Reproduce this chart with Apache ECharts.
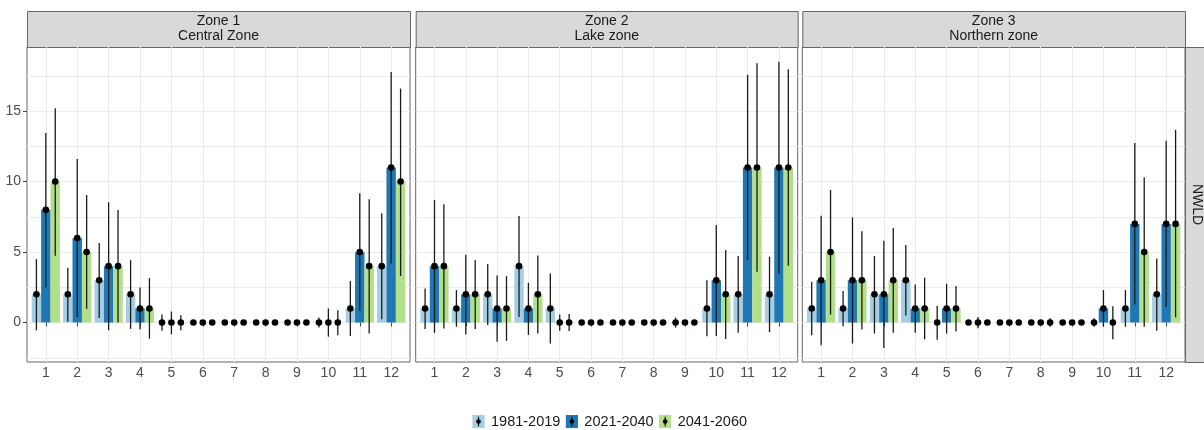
<!DOCTYPE html>
<html>
<head>
<meta charset="utf-8">
<script src="https://cdn.jsdelivr.net/npm/echarts@6/dist/echarts.min.js"></script>
<style>
html,body{margin:0;padding:0;background:#fff;}
#chart{width:1204px;height:430px;}
</style>
</head>
<body>
<div id="chart"></div>
<script>
// ---------- DATA ----------
const months = [1,2,3,4,5,6,7,8,9,10,11,12];
const monthLabels = ['1','2','3','4','5','6','7','8','9','10','11','12'];
const periods = ['1981-2019','2021-2040','2041-2060'];
const zoneTitles = ['Zone 1\nCentral Zone','Zone 2\nLake zone','Zone 3\nNorthern zone'];
const rowLabel = 'NWLD';
const yLabelTicks = [0,5,10,15];
const yGridTicks = [-2.5,0,2.5,5,7.5,10,12.5,15,17.5];

// Zone 1
const z1_p1 = [2,2,3,2,0,0,0,0,0,0,1,4];
const z1_p1_lo = [-0.55,0.05,0.33,-0.45,-0.59,0,0,0,0,-0.36,-0.95,0.24];
const z1_p1_hi = [4.5,3.89,5.64,4.43,0.57,0,0,0,0,0.36,2.94,7.75];
const z1_p2 = [8,6,4,1,0,0,0,0,0,0,5,11];
const z1_p2_lo = [2.49,0.4,-0.55,-0.5,-0.83,0,0,0,0,-1.0,0.83,4.19];
const z1_p2_hi = [13.44,11.6,8.53,2.49,0.78,0,0,0,0,1.0,9.17,17.77];
const z1_p3 = [10,5,4,1,0,0,0,0,0,0,4,10];
const z1_p3_lo = [4.74,0.97,0,-1.14,-0.55,0,0,0,0,-0.9,-0.78,3.3];
const z1_p3_hi = [15.2,9.05,7.99,3.15,0.52,0,0,0,0,0.88,8.74,16.6];

// Zone 2
const z2_p1 = [1,1,2,4,1,0,0,0,0,1,2,2];
const z2_p1_lo = [-0.45,-0.3,-0.17,0.4,-1.49,0,0,0,-0.36,-0.97,-0.73,-0.69];
const z2_p1_hi = [2.42,2.3,4.15,7.56,3.48,0,0,0,0.36,3.0,4.72,4.67];
const z2_p2 = [4,2,1,1,0,0,0,0,0,3,11,11];
const z2_p2_lo = [-0.73,-0.85,-1.37,-0.88,-0.59,0,0,0,0,-0.95,4.43,3.48];
const z2_p2_hi = [8.7,4.81,3.34,2.82,0.57,0,0,0,0,6.92,17.58,18.5];
const z2_p3 = [4,2,1,2,0,0,0,0,0,2,11,11];
const z2_p3_lo = [-0.43,-0.45,-1.3,-0.78,-0.6,0,0,0,0,-1.16,3.6,4.03];
const z2_p3_hi = [8.39,4.43,3.29,4.76,0.6,0,0,0,0,5.14,18.4,17.98];

// Zone 3
const z3_p1 = [1,1,2,3,0,0,0,0,0,0,1,2];
const z3_p1_lo = [-0.9,-0.26,-0.78,0.5,-1.23,0,0,0,0,-0.3,-0.3,-0.59];
const z3_p1_hi = [2.89,2.23,4.72,5.5,1.18,0,0,0,0,0.3,2.3,4.55];
const z3_p2 = [3,3,2,1,1,0,0,0,0,1,7,7];
const z3_p2_lo = [-1.61,-1.49,-1.8,-0.73,-0.78,-0.4,0,0,0,-0.3,1.28,1.11];
const z3_p2_hi = [7.58,7.46,5.8,2.7,2.75,0.4,0,0,0,2.3,12.73,12.9];
const z3_p3 = [5,3,3,1,1,0,0,0,0,0,5,7];
const z3_p3_lo = [0.57,-0.5,-0.73,-1.18,-0.64,0,0,-0.3,0,-1.18,-0.3,0.36];
const z3_p3_hi = [9.4,6.47,6.7,3.18,2.6,0,0,0.3,0,1.16,10.3,13.67];

// ---------- STYLE / LAYOUT ----------
const colors = ['#a6cee3','#1f78b4','#b2df8a'];
const FONT = '"Liberation Sans", Arial, sans-serif';
const panels = [
  {left:27, width:383},
  {left:415.7, width:382},
  {left:802.3, width:382.7}
];
const PTOP = 47, PH = 315;
const STRIP_TOP = 11, STRIP_H = 36;
const YMIN = -2.8, YMAX = 19.55;
const DODGE = 0.3, HALF = 0.15;

const zoneData = [
  [[z1_p1,z1_p1_lo,z1_p1_hi],[z1_p2,z1_p2_lo,z1_p2_hi],[z1_p3,z1_p3_lo,z1_p3_hi]],
  [[z2_p1,z2_p1_lo,z2_p1_hi],[z2_p2,z2_p2_lo,z2_p2_hi],[z2_p3,z2_p3_lo,z2_p3_hi]],
  [[z3_p1,z3_p1_lo,z3_p1_hi],[z3_p2,z3_p2_lo,z3_p2_hi],[z3_p3,z3_p3_lo,z3_p3_hi]]
];

function makeRender(offset) {
  return function (params, api) {
    const m = api.value(0), v = api.value(1), lo = api.value(2), hi = api.value(3);
    const x = m + offset;
    const children = [];
    if (v !== 0) {
      const a = api.coord([x - HALF, v]);
      const b = api.coord([x + HALF, 0]);
      children.push({
        type: 'rect',
        shape: {x: a[0], y: Math.min(a[1], b[1]), width: b[0] - a[0], height: Math.abs(b[1] - a[1])},
        style: {fill: api.visual('color')}
      });
    }
    if (hi > lo) {
      const p = api.coord([x, lo]), q = api.coord([x, hi]);
      children.push({type: 'line', shape: {x1: p[0], y1: p[1], x2: q[0], y2: q[1]},
        style: {stroke: '#1a1a1a', lineWidth: 1.3}});
    }
    const c = api.coord([x, v]);
    children.push({type: 'circle', shape: {cx: c[0], cy: c[1], r: 3.3}, style: {fill: '#000'}});
    return {type: 'group', children: children};
  };
}

const grids = [], xAxes = [], yAxes = [], series = [], graphics = [];
panels.forEach((p, zi) => {
  grids.push({left: p.left, top: PTOP, width: p.width, height: PH, show: true,
    borderColor: '#666', borderWidth: 1, backgroundColor: '#fff', containLabel: false});
  xAxes.push({
    type: 'value', gridIndex: zi, min: 0.4, max: 12.6,
    axisLine: {show: false},
    axisTick: {show: true, customValues: months, length: 4, lineStyle: {color: '#444'}},
    axisLabel: {show: true, customValues: months, margin: 4, color: '#4d4d4d', fontSize: 14, fontFamily: FONT,
      formatter: v => monthLabels[months.indexOf(Math.round(v))]},
    splitLine: {show: true, lineStyle: {color: '#ebebeb', width: 1}}
  });
  yAxes.push({
    type: 'value', gridIndex: zi, min: YMIN, max: YMAX,
    axisLine: {show: false},
    axisTick: {show: false, customValues: yGridTicks},
    axisLabel: {show: false},
    splitLine: {show: true, lineStyle: {color: '#ebebeb', width: 1}}
  });
  zoneData[zi].forEach((arrs, pi) => {
    const [vals, lo, hi] = arrs;
    series.push({
      type: 'custom', name: periods[pi], xAxisIndex: zi, yAxisIndex: zi,
      itemStyle: {color: colors[pi]},
      renderItem: makeRender((pi - 1) * DODGE),
      encode: {x: 0, y: 1},
      data: months.map((m, i) => [m, vals[i], lo[i], hi[i]]),
      z: 2
    });
  });
  // strip
  graphics.push({type: 'rect', left: p.left, top: STRIP_TOP,
    shape: {width: p.width, height: STRIP_H},
    style: {fill: '#d9d9d9', stroke: '#666', lineWidth: 1}});
  graphics.push({type: 'text', x: p.left + p.width / 2, y: STRIP_TOP + STRIP_H / 2,
    style: {text: zoneTitles[zi], align: 'center', verticalAlign: 'middle', lineHeight: 15,
      fill: '#1a1a1a', fontSize: 14, fontFamily: FONT}});
});
// labelled y axis with major ticks for the first panel
yAxes.push({
  type: 'value', gridIndex: 0, min: YMIN, max: YMAX, position: 'left',
  axisLine: {show: false},
  axisTick: {show: true, customValues: yLabelTicks, length: 4, lineStyle: {color: '#444'}},
  axisLabel: {show: true, customValues: yLabelTicks, margin: 6, color: '#4d4d4d', fontSize: 14, fontFamily: FONT},
  splitLine: {show: false}
});
// right strip
graphics.push({type: 'rect', left: 1185, top: PTOP, shape: {width: 30, height: PH},
  style: {fill: '#d9d9d9', stroke: '#666', lineWidth: 1}});
graphics.push({type: 'text', x: 1197, y: PTOP + PH / 2, rotation: -Math.PI / 2,
  style: {text: rowLabel, align: 'center', verticalAlign: 'middle', fill: '#1a1a1a', fontSize: 14, fontFamily: FONT}});

function iconFor(col) {
  const svg = '<svg xmlns="http://www.w3.org/2000/svg" width="13" height="14" viewBox="0 0 13 14">' +
    '<rect x="0" y="0" width="13" height="14" fill="' + col + '"/>' +
    '<line x1="6.5" y1="2" x2="6.5" y2="12" stroke="#000" stroke-width="1.2"/>' +
    '<circle cx="6.5" cy="7" r="2.4" fill="#000"/></svg>';
  return 'image://data:image/svg+xml;charset=utf-8,' + encodeURIComponent(svg);
}

const option = {
  animation: false,
  backgroundColor: '#fff',
  grid: grids,
  xAxis: xAxes,
  yAxis: yAxes,
  series: series,
  legend: {
    top: 409, left: 467, itemWidth: 13, itemHeight: 13.5, itemGap: 5,
    textStyle: {fontSize: 14.5, color: '#1a1a1a', fontFamily: FONT, padding: [0, 0, 0, 1]},
    data: periods.map((p, i) => ({name: p, icon: iconFor(colors[i])}))
  },
  graphic: graphics
};
const chart = echarts.init(document.getElementById('chart'), null, {renderer: 'canvas'});
chart.setOption(option);
</script>
</body>
</html>
